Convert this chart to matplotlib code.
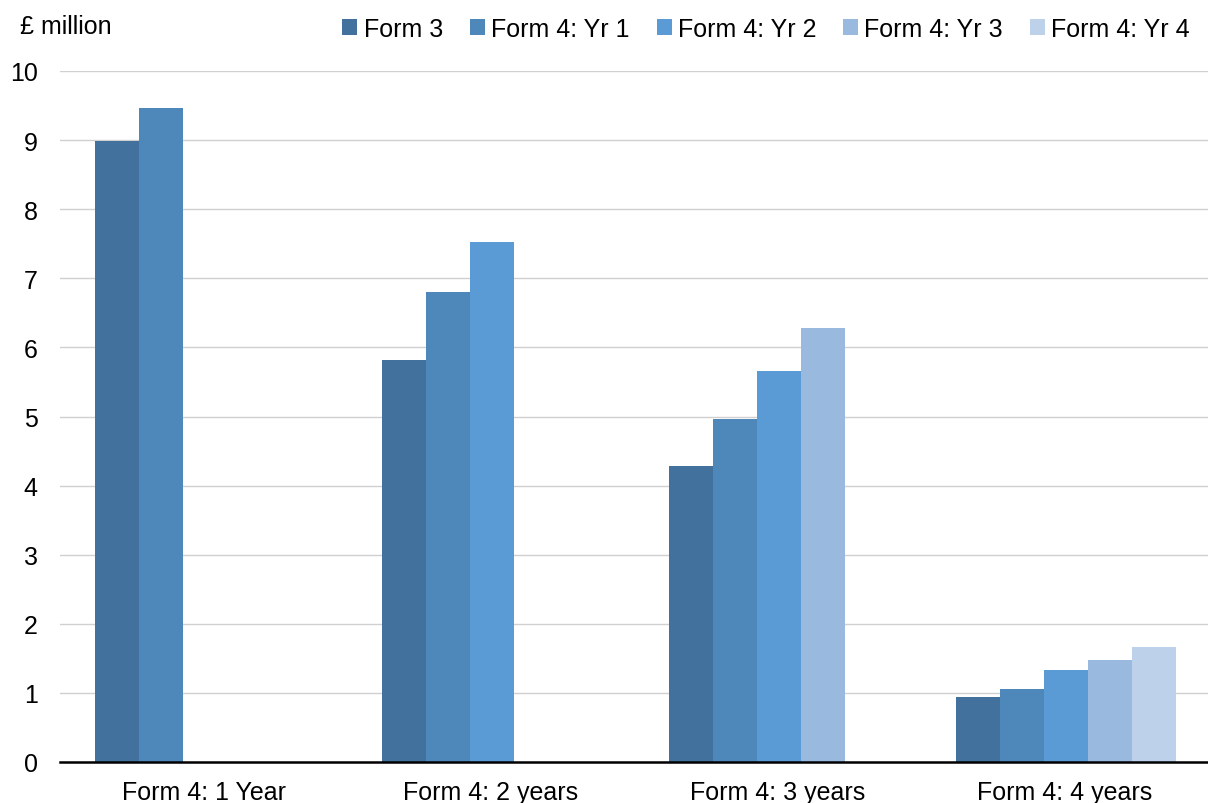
import numpy as np
import matplotlib
matplotlib.use("Agg")
import matplotlib.pyplot as plt

plt.rcParams["font.family"] = ["Liberation Sans", "DejaVu Sans"]

categories = ["Form 4: 1 Year", "Form 4: 2 years", "Form 4: 3 years", "Form 4: 4 years"]
series_names = ["Form 3", "Form 4: Yr 1", "Form 4: Yr 2", "Form 4: Yr 3", "Form 4: Yr 4"]
form3 = [8.98, 5.82, 4.28, 0.94]
yr1 = [9.46, 6.80, 4.96, 1.06]
yr2 = [np.nan, 7.53, 5.66, 1.33]
yr3 = [np.nan, np.nan, 6.28, 1.48]
yr4 = [np.nan, np.nan, np.nan, 1.66]
colors = ["#41719c", "#4e88ba", "#5b9bd5", "#9ab9df", "#bdd1eb"]

fig = plt.figure(figsize=(12.08, 8.04), dpi=100)
ax = fig.add_axes([60 / 1208, 41 / 804, 1 - 60 / 1208, 691 / 804])

x = np.arange(len(categories))
w = 0.153
for i, (vals, name) in enumerate(zip([form3, yr1, yr2, yr3, yr4], series_names)):
    ax.bar(x + (i - 2) * w + 0.005, vals, width=w, color=colors[i], label=name,
           linewidth=0, zorder=3)

fs = 18
ax.set_xlim(-0.5, len(categories) - 0.5)
ax.set_ylim(0, 10)
ax.set_yticks(range(0, 11))
ax.set_xticks(x)
ax.set_xticklabels(categories)
ax.tick_params(axis="both", length=0, labelsize=fs, colors="black")
ax.tick_params(axis="y", pad=16)
ax.tick_params(axis="x", pad=13)
ax.grid(axis="y", color="#d0d0d0", linewidth=1.0, zorder=0)
for s in ("top", "right", "left"):
    ax.spines[s].set_visible(False)
ax.spines["bottom"].set_linewidth(1.8)
ax.spines["bottom"].set_zorder(4)

fig.text(20 / 1208, 1 - 27 / 804, "£ million", fontsize=fs, va="center", ha="left")

ax.legend(loc="center right", bbox_to_anchor=(1 - 18 / 1208, (804 - 30) / 804),
          bbox_transform=fig.transFigure,
          ncol=5, frameon=False, fontsize=fs, handlelength=0.6, handleheight=0.6,
          handletextpad=0.25, columnspacing=1.08, borderaxespad=0, borderpad=0)

fig.savefig("out.png", dpi=100)
